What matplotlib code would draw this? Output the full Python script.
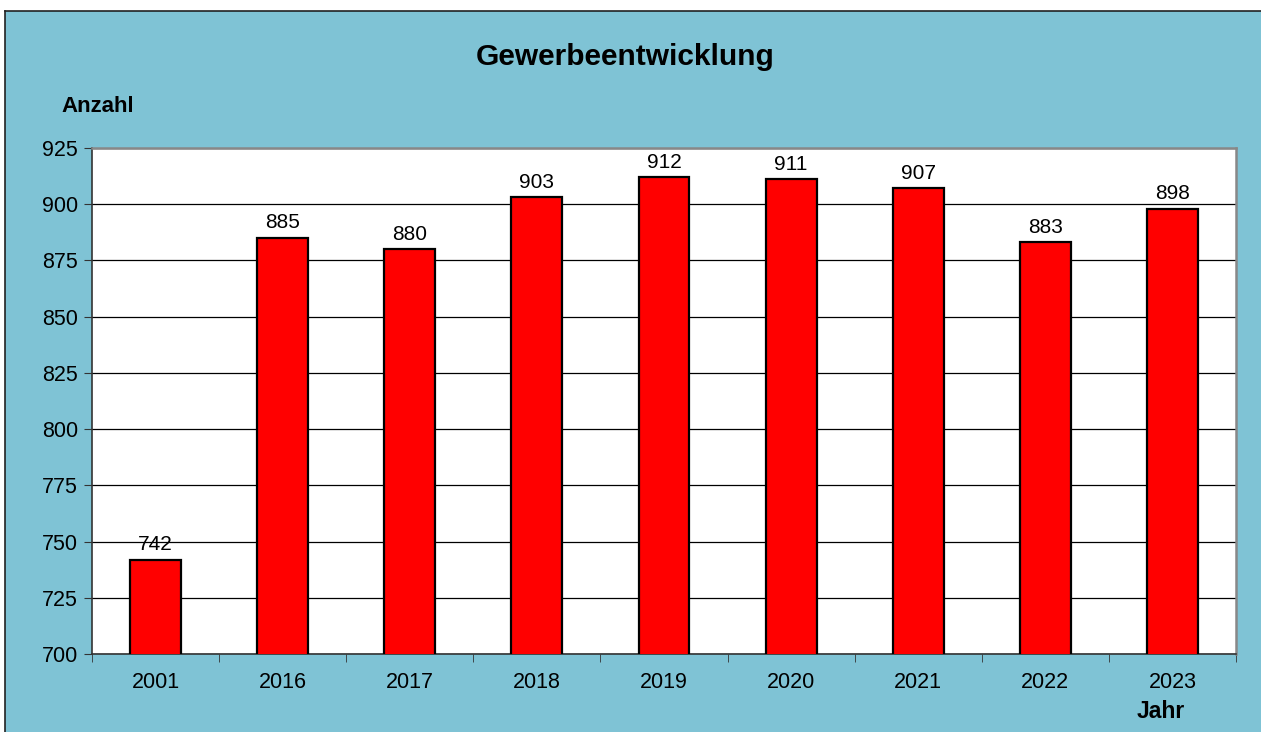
import matplotlib.pyplot as plt
from matplotlib.patches import Rectangle

years = ["2001", "2016", "2017", "2018", "2019", "2020", "2021", "2022", "2023"]
counts = [742, 885, 880, 903, 912, 911, 907, 883, 898]
yticks = list(range(700, 926, 25))

W, H = 1261, 732
fig = plt.figure(figsize=(W / 100, H / 100), dpi=100)
fig.patch.set_facecolor("white")

# blue chart background with dark top/left border
bg = Rectangle((5 / W, 0), 1 - 5 / W, 1 - 11 / H, transform=fig.transFigure,
               facecolor="#7FC3D5", edgecolor="none", zorder=-2)
fig.patches.append(bg)
fig.add_artist(plt.Line2D([5 / W, 1], [1 - 11 / H, 1 - 11 / H], transform=fig.transFigure,
                          color="#222222", lw=1.2))
fig.add_artist(plt.Line2D([5 / W, 5 / W], [0, 1 - 11 / H], transform=fig.transFigure,
                          color="#222222", lw=1.2))

left, right, top, bottom = 92, 1236, 148, 654
ax = fig.add_axes([left / W, 1 - bottom / H, (right - left) / W, (bottom - top) / H])
ax.set_facecolor("white")

x = range(len(years))
ax.bar(x, counts, width=0.4, color="#FF0000", edgecolor="black", linewidth=1.6, zorder=3)
for i, v in enumerate(counts):
    ax.text(i, v + 2.5, str(v), ha="center", va="bottom", fontsize=15, family="Liberation Sans")

ax.set_xlim(-0.5, len(years) - 0.5)
ax.set_ylim(700, 925)
ax.set_yticks(yticks)
ax.set_yticklabels([str(t) for t in yticks], fontsize=15.5, family="Liberation Sans")
ax.yaxis.grid(True, color="black", lw=0.9, zorder=0)
ax.set_axisbelow(True)

ax.set_xticks(list(x))
ax.set_xticklabels(years, fontsize=15.5, family="Liberation Sans")
ax.tick_params(axis="x", length=0, pad=13)
ax.set_xticks([i - 0.5 for i in range(len(years) + 1)], minor=True)
ax.tick_params(axis="x", which="minor", length=6, direction="out", color="#333333")
ax.tick_params(axis="y", length=6, direction="out", color="#333333", pad=4)

for s in ["top", "right"]:
    ax.spines[s].set_color("#888888")
    ax.spines[s].set_linewidth(1.8)
for s in ["left", "bottom"]:
    ax.spines[s].set_color("#333333")
    ax.spines[s].set_linewidth(1.2)

fig.text(625 / W, 1 - 57 / H, "Gewerbeentwicklung", ha="center", va="center",
         fontsize=21.5, fontweight="bold", family="Liberation Sans")
fig.text(98 / W, 1 - 107 / H, "Anzahl", ha="center", va="center",
         fontsize=16, fontweight="bold", family="Liberation Sans")
fig.text(1161 / W, 1 - 711 / H, "Jahr", ha="center", va="center",
         fontsize=16.5, fontweight="bold", family="Liberation Sans")

fig.savefig("out.png", dpi=100, facecolor=fig.get_facecolor())
